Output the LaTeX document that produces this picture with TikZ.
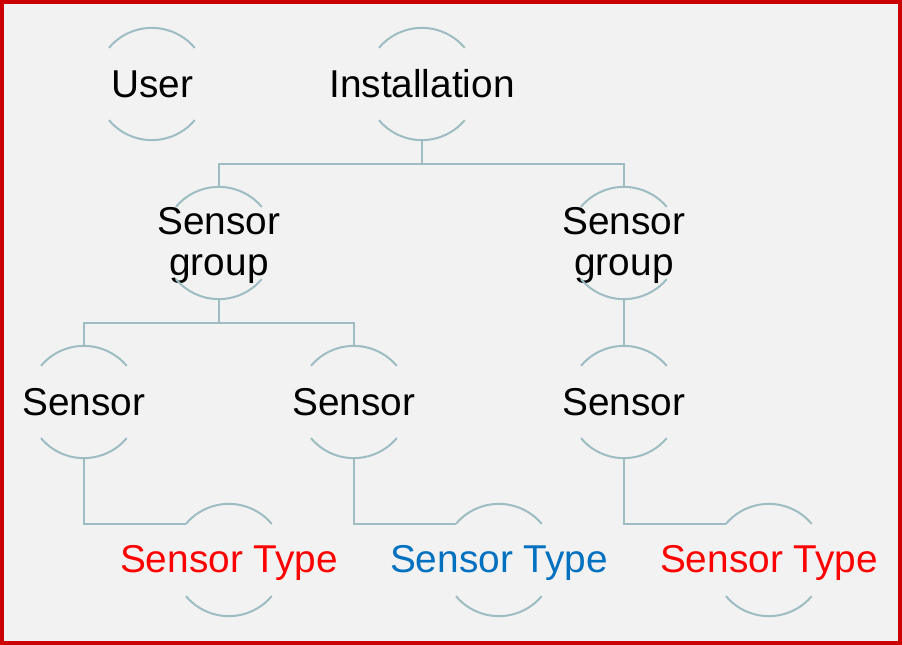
\documentclass[tikz,border=0pt]{standalone}
\usepackage{fontspec}
\setmainfont{Liberation Sans}
\usetikzlibrary{calc}

\definecolor{ringgrey}{RGB}{157,189,194}
\definecolor{framered}{RGB}{204,0,0}
\definecolor{pagegrey}{RGB}{242,242,242}
\definecolor{typeblue}{RGB}{0,112,192}
\definecolor{typered}{RGB}{255,0,0}

% top and bottom arcs of a ring node
\newcommand{\ringarcs}[1]{%
    \draw[ring line] (#1.140) arc[start angle=140, end angle=40, radius=56pt];
    \draw[ring line] (#1.220) arc[start angle=220, end angle=320, radius=56pt];}

\begin{document}
\begin{tikzpicture}[x=1pt, y=-1pt,
    ring/.style = {shape=circle, minimum size=112pt, inner sep=0pt},
    ring text/.style = {align=center, inner sep=0pt,
        font=\fontsize{38.8}{41}\selectfont},
    low text/.style = {ring text, yshift=-2.5pt},
    ring line/.style = {draw=ringgrey, line width=2pt},
    link/.style = {draw=ringgrey, line width=2pt},
    elbow/.style = {to path={(\tikztostart) |- ($(\tikztostart)!.5!(\tikztotarget)$) -| (\tikztotarget)}},
    corner/.style = {to path={(\tikztostart) |- (\tikztotarget)}}]
    \useasboundingbox (0,0) rectangle (902,645);
    \fill[pagegrey] (0,0) rectangle (902,645);
    \draw[framered, line width=4pt] (2,2) rectangle (900,643);

    \node[ring, label={[ring text]center:User}] (user) at (152,84) {};
    \node[ring, label={[ring text]center:Installation}] (inst) at (422,84) {};
    \node[ring, label={[low text]center:Sensor\\group}] (sg1) at (219,243) {};
    \node[ring, label={[low text]center:Sensor\\group}] (sg2) at (624,243) {};
    \node[ring, label={[ring text]center:Sensor}] (s1) at (84,402) {};
    \node[ring, label={[ring text]center:Sensor}] (s2) at (354,402) {};
    \node[ring, label={[ring text]center:Sensor}] (s3) at (624,402) {};
    \node[ring, label={[low text, typered]center:Sensor Type}] (t1) at (229,560) {};
    \node[ring, label={[low text, typeblue]center:Sensor Type}] (t2) at (499,560) {};
    \node[ring, label={[low text, typered]center:Sensor Type}] (t3) at (769,560) {};

    \foreach \n in {user, inst, sg1, sg2, s1, s2, s3, t1, t2, t3} {
        \ringarcs{\n}
    }

    \path
        (inst.south) edge[link, elbow] (sg1.north)
        (inst.south) edge[link, elbow] (sg2.north)
        (sg1.south) edge[link, elbow] (s1.north)
        (sg1.south) edge[link, elbow] (s2.north)
        (sg2.south) edge[link] (s3.north)
        (s1.south) edge[link, corner] (t1.140)
        (s2.south) edge[link, corner] (t2.140)
        (s3.south) edge[link, corner] (t3.140);
\end{tikzpicture}
\end{document}
